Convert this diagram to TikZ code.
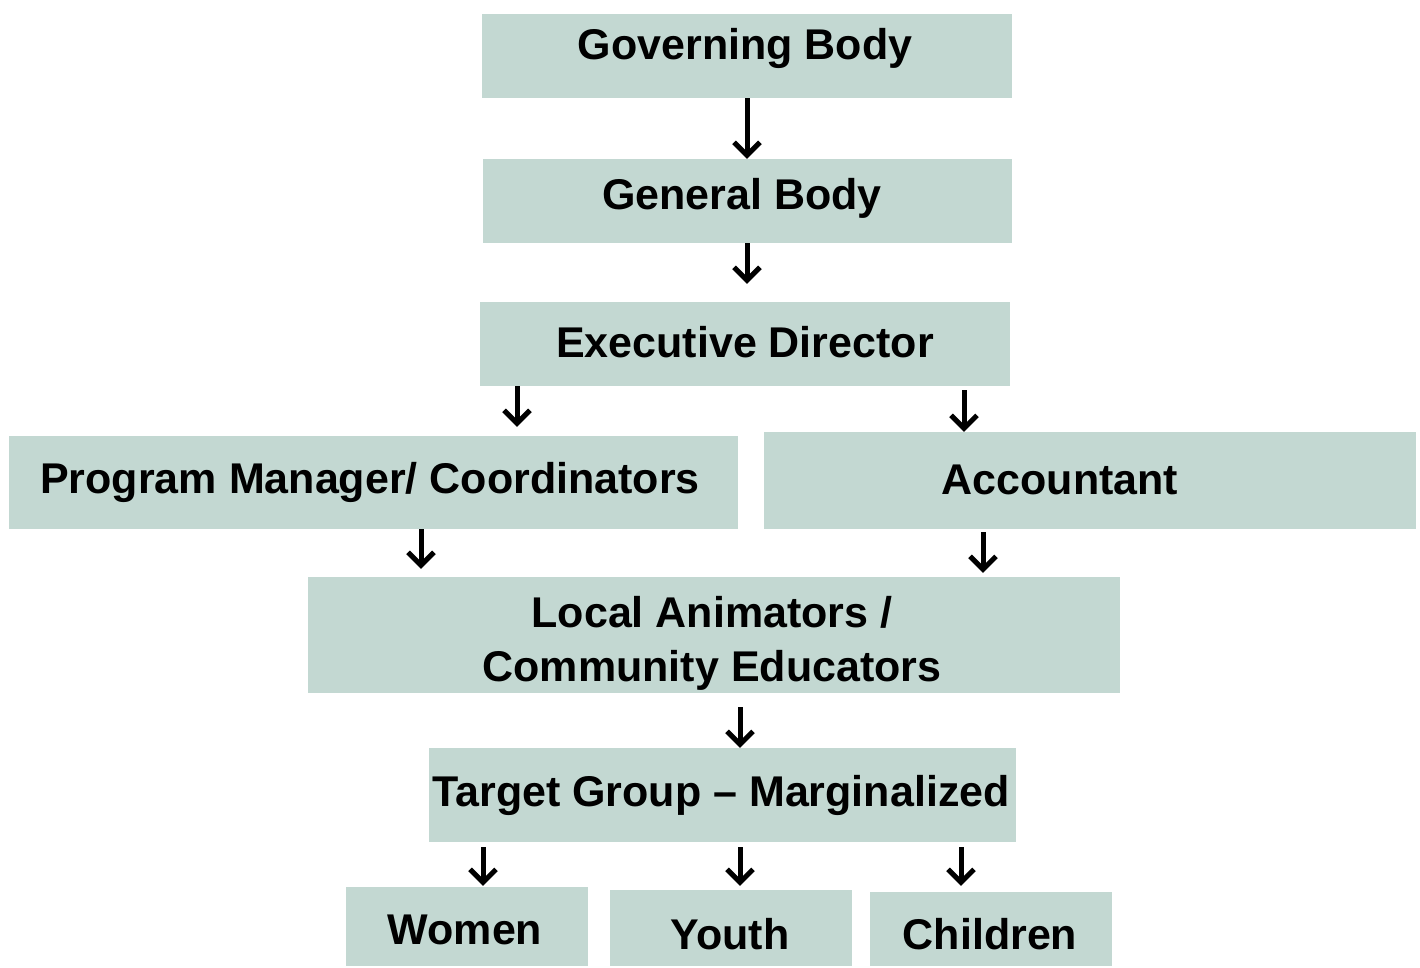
\documentclass[tikz,border=0pt]{standalone}
\usepackage{fontspec}
\setmainfont{Liberation Sans}
\usetikzlibrary{arrows.meta}
\definecolor{boxc}{HTML}{C3D8D2}
\begin{document}
\begin{tikzpicture}[x=1pt,y=-1pt,
  box/.style={fill=boxc,draw=none,inner sep=0pt},
  txt/.style={font=\fontsize{43}{58}\selectfont\bfseries,inner sep=0pt,align=center},
  arr/.style={line width=5pt,-{Straight Barb[length=13pt,width=26pt,line width=5pt]}}]
\useasboundingbox (0,0) rectangle (1420,967);
% boxes
\node[box,minimum width=530pt,minimum height=84pt] (gov) at (747,56) {};
\node[box,minimum width=529pt,minimum height=84pt] (gen) at (747.5,201) {};
\node[box,minimum width=530pt,minimum height=84pt] (exe) at (745,344) {};
\node[box,minimum width=729pt,minimum height=93pt] (pm) at (373.5,482.5) {};
\node[box,minimum width=652pt,minimum height=97pt] (acc) at (1090,480.5) {};
\node[box,minimum width=812pt,minimum height=116pt] (loc) at (714,635) {};
\node[box,minimum width=587pt,minimum height=94pt] (tg) at (722.5,795) {};
\node[box,minimum width=242pt,minimum height=79pt] (wom) at (467,926.5) {};
\node[box,minimum width=242pt,minimum height=76pt] (you) at (731,928) {};
\node[box,minimum width=242pt,minimum height=74pt] (chi) at (991,929) {};
% texts
\node[txt] (govt) at (745,48) {Governing Body};
\node[txt] (gent) at (742,198) {General Body};
\node[txt] (exet) at (745,342) {Executive Director};
\node[txt] (pmt) at (370,482) {Program Manager/ Coordinators};
\node[txt] (acct) at (1060,480) {Accountant};
\node[txt] (loct1) at (712,612) {Local Animators /};
\node[txt] (loct2) at (712,670) {Community Educators};
\node[txt] (tgt) at (721,795) {Target Group -- Marginalized};
\node[txt] (womt) at (465,930) {Women};
\node[txt] (yout) at (730,934) {Youth};
\node[txt] (chit) at (990,934) {Children};
% arrows
\coordinate (c1) at (747,0);
\coordinate (c2) at (517,0);
\coordinate (c3) at (964,0);
\coordinate (c4) at (421,0);
\coordinate (c5) at (983,0);
\coordinate (c6) at (740,0);
\coordinate (c7) at (483,0);
\coordinate (c8) at (961,0);
\draw[arr] (c1 |- gov.south) -- (c1 |- gen.north);
\draw[arr,shorten >=18pt] (c1 |- gen.south) -- (c1 |- exe.north);
\draw[arr,shorten >=9pt] (c2 |- exe.south) -- (c2 |- pm.north);
\draw[arr,shorten <=4pt] (c3 |- exe.south) -- (c3 |- acc.north);
\draw[arr,shorten >=8pt] (c4 |- pm.south) -- (c4 |- loc.north);
\draw[arr,shorten <=3pt,shorten >=4pt] (c5 |- acc.south) -- (c5 |- loc.north);
\draw[arr,shorten <=14pt] (c6 |- loc.south) -- (c6 |- tg.north);
\draw[arr,shorten <=5pt,shorten >=1pt] (c7 |- tg.south) -- (c7 |- wom.north);
\draw[arr,shorten <=5pt,shorten >=4pt] (c6 |- tg.south) -- (c6 |- you.north);
\draw[arr,shorten <=5pt,shorten >=6pt] (c8 |- tg.south) -- (c8 |- chi.north);
\end{tikzpicture}
\end{document}
